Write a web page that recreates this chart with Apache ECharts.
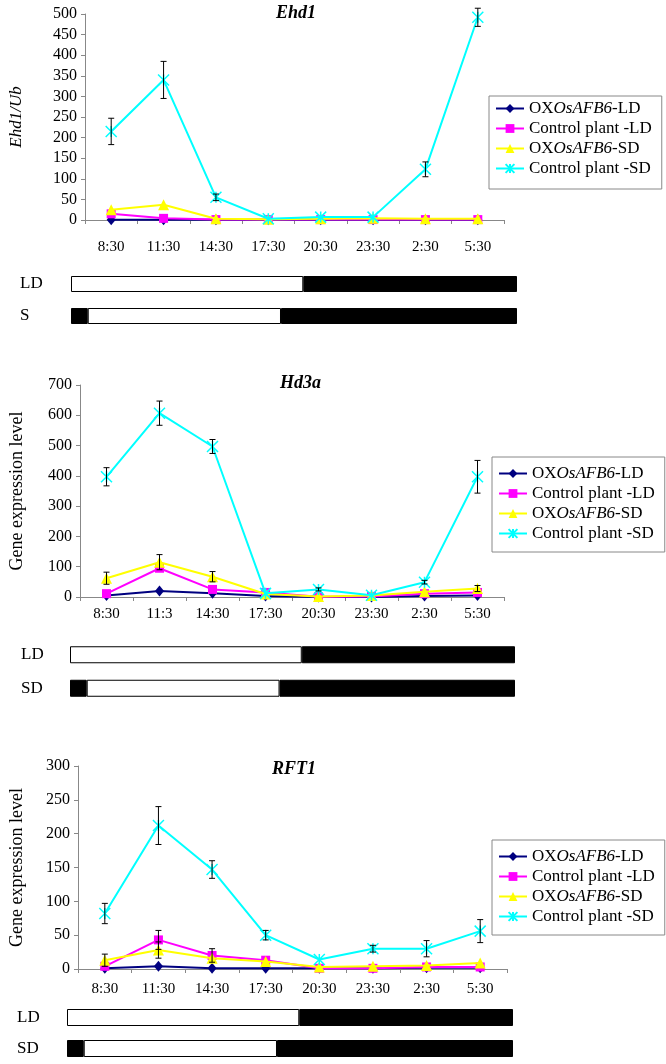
<!DOCTYPE html>
<html lang="en">
  <head>
    <meta charset="utf-8" />
    <title>Ehd1 / Hd3a / RFT1</title>
    <script src="https://cdn.jsdelivr.net/npm/echarts@6/dist/echarts.min.js"></script>
    <style>
      html, body { margin: 0; padding: 0; background: #fff; }
    </style>
  </head>
  <body>
    <div id="main" style="width: 666px; height: 1064px;"></div>
    <script type="text/javascript">
      // sampling times
      const timesA = ['8:30', '11:30', '14:30', '17:30', '20:30', '23:30', '2:30', '5:30'];
      const timesB = ['8:30', '11:3', '14:30', '17:30', '20:30', '23:30', '2:30', '5:30'];

      const seriesNames = ['OXOsAFB6-LD', 'Control plant -LD', 'OXOsAFB6-SD', 'Control plant -SD'];

      // Ehd1
      const ehdOxLd = [0.5, 0.5, 0.5, 0.5, 0.5, 0.5, 0.5, 0.5];
      const ehdCtrlLd = [15, 4, 1, 1, 1, 1, 1, 1];
      const ehdOxSd = [25, 37, 3, 2, 3, 4, 3, 3];
      const ehdCtrlSd = [215, 340, 55, 3, 7, 7, 123, 492];
      const ehdCtrlSdErr = [32, 45, 8, 0, 0, 0, 18, 22];

      // Hd3a
      const hdOxLd = [5, 20, 12, 3, 0, 0, 3, 5];
      const hdCtrlLd = [11, 95, 25, 15, 1, 2, 11, 15];
      const hdOxSd = [62, 115, 67, 10, 2, 5, 17, 28];
      const hdOxSdErr = [20, 25, 17, 0, 0, 0, 0, 10];
      const hdCtrlSd = [397, 607, 497, 12, 25, 6, 49, 397];
      const hdCtrlSdErr = [30, 40, 23, 0, 5, 0, 6, 54];

      // RFT1
      const rftOxLd = [1, 4, 1, 1, 1, 1, 2, 2];
      const rftCtrlLd = [4, 43, 20, 13, 1, 1, 3, 3];
      const rftCtrlLdErr = [0, 14, 10, 0, 0, 0, 0, 0];
      const rftOxSd = [13, 28, 16, 11, 3, 4, 5, 9];
      const rftOxSdErr = [9, 12, 0, 0, 0, 0, 0, 0];
      const rftCtrlSd = [82, 212, 147, 50, 14, 30, 30, 56];
      const rftCtrlSdErr = [15, 28, 13, 7, 0, 5, 12, 17];

      // light / dark phases in hours over one day
      const ldPhases = [['light', 12.5], ['dark', 11.5]];
      const sdPhases = [['dark', 0.9], ['light', 10.4], ['dark', 12.7]];

      const FONT = '"Liberation Serif", "Times New Roman", serif';
      const colors = ['#000080', '#FF00FF', '#FFFF00', '#00FFFF'];
      const symbols = ['diamond', 'rect', 'triangle', 'path://M0,0L10,10M10,0L0,10M5,0L5,10'];
      const symbolSizes = [[9, 11], 9, 11, 11];

      const panels = [
        {
          title: 'Ehd1', titleLeft: 276, titleTop: 4,
          yName: 'Ehd1/Ub', yItalic: true, max: 500, interval: 50,
          cats: timesA, values: [ehdOxLd, ehdCtrlLd, ehdOxSd, ehdCtrlSd],
          errors: [null, null, null, ehdCtrlSdErr],
          grid: { left: 77, top: 14, width: 427, height: 206 }, nameGap: 60, xMargin: 20,
          legend: { left: 489, top: 96, padding: [4, 10, 12, 6] },
          dayLabels: ['LD', 'S'], dayGrid: { left: 71, top: 268, width: 446, height: 64 }, dayMargin: 51
        },
        {
          title: 'Hd3a', titleLeft: 280, titleTop: 374,
          yName: 'Gene expression level', yItalic: false, max: 700, interval: 100,
          cats: timesB, values: [hdOxLd, hdCtrlLd, hdOxSd, hdCtrlSd],
          errors: [null, null, hdOxSdErr, hdCtrlSdErr],
          grid: { left: 71, top: 385, width: 433, height: 212 }, nameGap: 54, xMargin: 10,
          legend: { left: 492, top: 457, padding: [8, 10, 10, 6] },
          dayLabels: ['LD', 'SD'], dayGrid: { left: 70, top: 638, width: 445, height: 67 }, dayMargin: 49
        },
        {
          title: 'RFT1', titleLeft: 272, titleTop: 760,
          yName: 'Gene expression level', yItalic: false, max: 300, interval: 50,
          cats: timesA, values: [rftOxLd, rftCtrlLd, rftOxSd, rftCtrlSd],
          errors: [null, rftCtrlLdErr, rftOxSdErr, rftCtrlSdErr],
          grid: { left: 70, top: 766, width: 437, height: 203 }, nameGap: 52, xMargin: 13,
          legend: { left: 492, top: 840, padding: [8, 10, 10, 6] },
          dayLabels: ['LD', 'SD'], dayGrid: { left: 67, top: 1002, width: 446, height: 66 }, dayMargin: 50
        }
      ];

      const renderErr = (params, api) => {
        const x = api.value(0);
        const v = api.value(1);
        const e = api.value(2);
        const top = api.coord([x, v + e]);
        const bot = api.coord([x, v - e]);
        const style = { stroke: '#000', lineWidth: 1 };
        return {
          type: 'group',
          children: [
            { type: 'line', shape: { x1: top[0], y1: top[1], x2: bot[0], y2: bot[1] }, style: style },
            { type: 'line', shape: { x1: top[0] - 3, y1: top[1], x2: top[0] + 3, y2: top[1] }, style: style },
            { type: 'line', shape: { x1: bot[0] - 3, y1: bot[1], x2: bot[0] + 3, y2: bot[1] }, style: style }
          ]
        };
      };

      const grid = [], xAxis = [], yAxis = [], series = [], title = [], legend = [];

      panels.forEach((p, i) => {
        const ci = 2 * i;      // chart grid / axes
        const gi = 2 * i + 1;  // day bar grid / axes

        grid.push(p.grid);
        xAxis.push({
          type: 'category', gridIndex: ci, data: p.cats,
          axisLine: { lineStyle: { color: '#888' } },
          axisTick: { show: true, length: 4, lineStyle: { color: '#888' } },
          axisLabel: { color: '#000', fontFamily: FONT, fontSize: 15, margin: p.xMargin },
          splitLine: { show: false }
        });
        yAxis.push({
          type: 'value', gridIndex: ci, min: 0, max: p.max, interval: p.interval,
          axisLine: { show: true, lineStyle: { color: '#888' } },
          axisTick: { show: true, length: 4, lineStyle: { color: '#888' } },
          axisLabel: { color: '#000', fontFamily: FONT, fontSize: 16, margin: 8 },
          splitLine: { show: false },
          name: p.yName, nameLocation: 'middle', nameGap: p.nameGap,
          nameTextStyle: { color: '#000', fontFamily: FONT, fontSize: p.yItalic ? 17 : 18,
                           fontStyle: p.yItalic ? 'italic' : 'normal' }
        });
        title.push({
          text: p.title, left: p.titleLeft, top: p.titleTop, padding: 0,
          textStyle: { fontFamily: FONT, fontSize: 18, fontWeight: 'bold', fontStyle: 'italic', color: '#000' }
        });
        legend.push({
          data: seriesNames, orient: 'vertical',
          left: p.legend.left, top: p.legend.top, padding: p.legend.padding,
          itemGap: 3, itemWidth: 28, itemHeight: 11,
          borderColor: '#888', borderWidth: 1, backgroundColor: '#fff',
          selectedMode: false,
          formatter: (name) => name.startsWith('OX')
            ? '{n|OX}{i|OsAFB6}{n|' + name.slice(8) + '}'
            : '{n|' + name + '}',
          textStyle: {
            color: '#000', fontFamily: FONT, fontSize: 17, lineHeight: 17,
            rich: {
              n: { fontFamily: FONT, fontSize: 17, color: '#000' },
              i: { fontFamily: FONT, fontSize: 17, fontStyle: 'italic', color: '#000' }
            }
          }
        });

        p.values.forEach((vals, k) => {
          series.push({
            name: seriesNames[k], type: 'line', xAxisIndex: ci, yAxisIndex: ci,
            data: vals, symbol: symbols[k], symbolSize: symbolSizes[k],
            showAllSymbol: true,
            lineStyle: { color: colors[k], width: 2 },
            itemStyle: { color: colors[k], borderColor: colors[k], borderWidth: k === 3 ? 1.5 : 0 },
            emphasis: { disabled: true },
            z: 2 + k
          });
        });
        p.errors.forEach((errs, k) => {
          if (!errs) return;
          const data = [];
          errs.forEach((e, j) => { if (e > 0) data.push([j, p.values[k][j], e]); });
          series.push({
            type: 'custom', xAxisIndex: ci, yAxisIndex: ci,
            renderItem: renderErr, data: data, clip: false, z: 10,
            encode: { x: 0, y: 1 }, silent: true
          });
        });

        // day / night bars
        grid.push(p.dayGrid);
        xAxis.push({ type: 'value', gridIndex: gi, min: 0, max: 24, show: false });
        yAxis.push({
          type: 'category', gridIndex: gi, data: p.dayLabels, inverse: true,
          axisLine: { show: false }, axisTick: { show: false },
          axisLabel: { color: '#000', fontFamily: FONT, fontSize: 17, align: 'left', margin: p.dayMargin }
        });
        const rows = [ldPhases, sdPhases];
        for (let s = 0; s < 3; s++) {
          series.push({
            type: 'bar', xAxisIndex: gi, yAxisIndex: gi, stack: 'day' + i,
            barWidth: i === 0 ? 16 : 17, silent: true,
            data: rows.map((r) => r[s]
              ? { value: r[s][1], itemStyle: { color: r[s][0] === 'light' ? '#fff' : '#000' } }
              : '-'),
            itemStyle: { borderColor: '#000', borderWidth: 1 }
          });
        }
      });

      const myChart = echarts.init(document.getElementById('main'));
      myChart.setOption({
        backgroundColor: '#fff',
        animation: false,
        title: title,
        legend: legend,
        grid: grid,
        xAxis: xAxis,
        yAxis: yAxis,
        series: series
      });
    </script>
  </body>
</html>
